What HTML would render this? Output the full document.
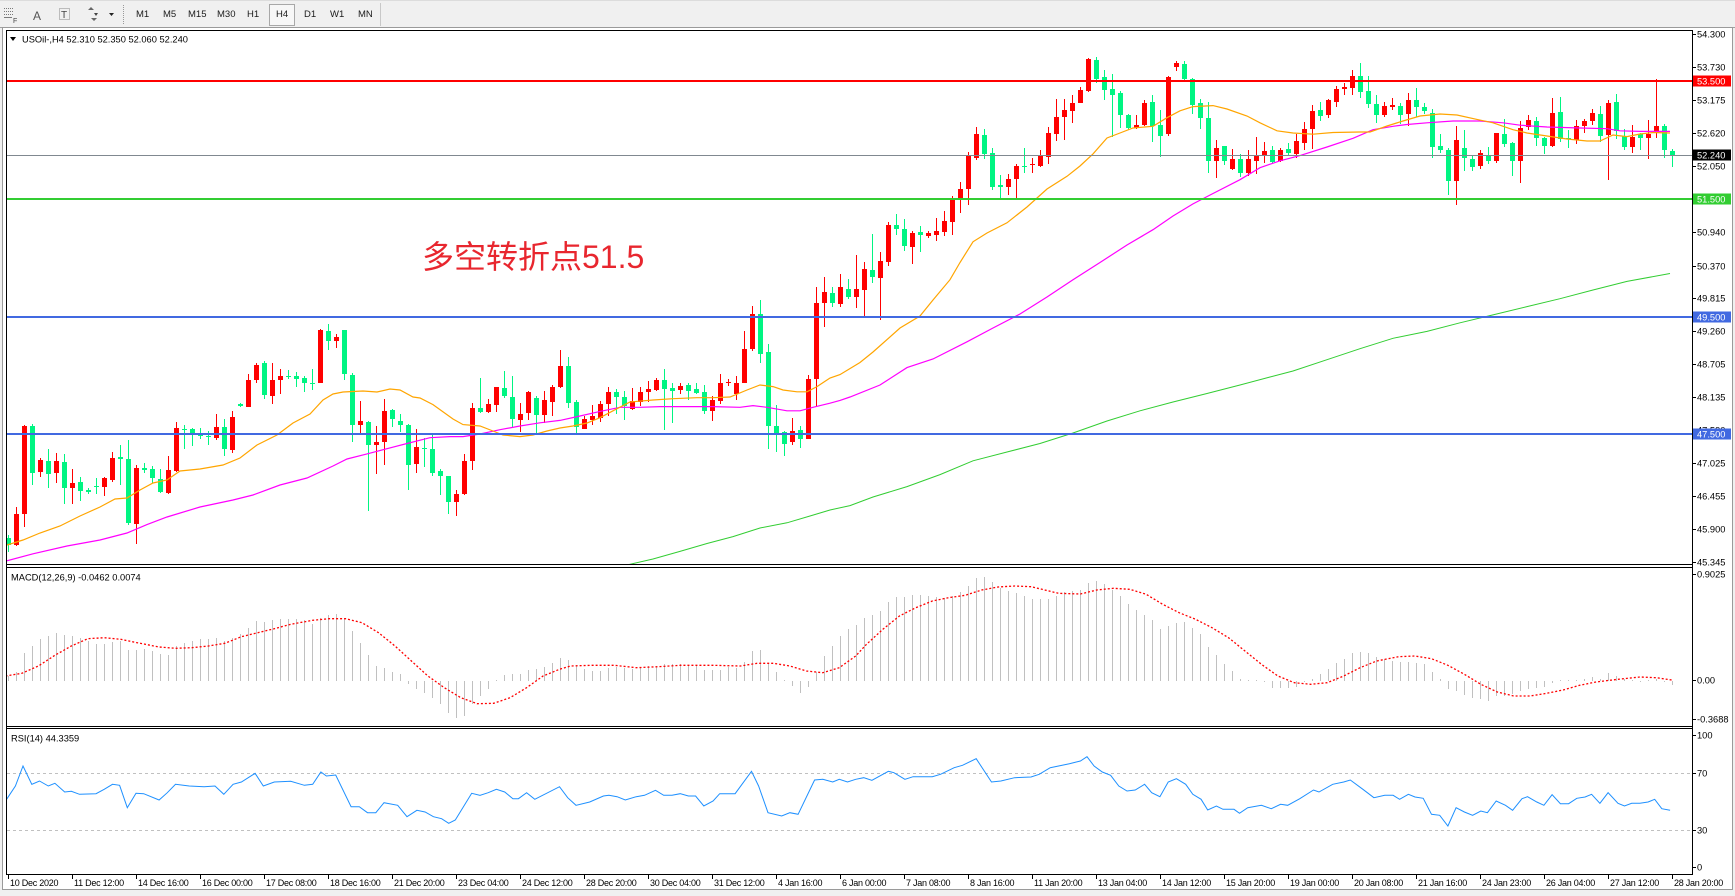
<!DOCTYPE html>
<html><head><meta charset="utf-8">
<style>
html,body{margin:0;padding:0;}
body{width:1735px;height:896px;background:#f0f0f0;position:relative;overflow:hidden;font-family:"Liberation Sans","Noto Sans CJK SC",sans-serif;}
#tb{position:absolute;left:0;top:0;width:1735px;height:26px;background:#f0f0f0;border-top:1px solid #dcdcdc;border-bottom:1px solid #a0a0a0;}
.tf{position:absolute;top:9px;font-size:9.5px;color:#1a1a1a;line-height:10px;}
#h4b{position:absolute;left:269px;top:3px;width:24px;height:20px;border:1px solid #a8a8a8;background:#f7f7f7;}
svg{position:absolute;left:0;top:0;}
.ax{font-family:"Liberation Sans",sans-serif;font-size:9.3px;fill:#000;}
.tl{font-family:"Liberation Sans",sans-serif;font-size:9px;letter-spacing:-0.25px;fill:#000;}
.bx{font-family:"Liberation Sans",sans-serif;font-size:9.3px;fill:#fff;}
</style></head>
<body>
<div id="tb">
  <svg width="400" height="26" style="position:absolute;left:0;top:0">
    <g fill="#7a7a7a">
      <rect x="4" y="7" width="1" height="1"/><rect x="6" y="7" width="1" height="1"/><rect x="8" y="7" width="1" height="1"/><rect x="10" y="7" width="1" height="1"/><rect x="12" y="7" width="1" height="1"/>
      <rect x="4" y="10" width="1" height="1"/><rect x="6" y="10" width="1" height="1"/><rect x="8" y="10" width="1" height="1"/><rect x="10" y="10" width="1" height="1"/><rect x="12" y="10" width="1" height="1"/>
      <rect x="4" y="13" width="1" height="1"/><rect x="6" y="13" width="1" height="1"/><rect x="8" y="13" width="1" height="1"/><rect x="10" y="13" width="1" height="1"/><rect x="12" y="13" width="1" height="1"/>
      <rect x="4" y="16" width="8" height="1"/>
    </g>
    <text x="13" y="22" font-size="7" font-family="Liberation Sans" fill="#444">F</text>
    <text x="33" y="19" font-size="12" font-family="Liberation Sans" fill="#555">A</text>
    <rect x="59.5" y="7.5" width="10" height="11" fill="none" stroke="#888" stroke-dasharray="1,1"/>
    <text x="61" y="17" font-size="10" font-family="Liberation Sans" fill="#444">T</text>
    <path d="M88 9 l3 -3 l3 3 z M91 17 l3 3 l3 -3 z" fill="#666"/>
    <path d="M94 12 l4 0 l-2 3 z" fill="#444"/>
    <path d="M109 12 h5 l-2.5 3 z" fill="#222"/>
    <line x1="123.5" y1="4" x2="123.5" y2="23" stroke="#999" stroke-dasharray="1,1"/>
    <line x1="380.5" y1="2" x2="380.5" y2="25" stroke="#c8c8c8"/>
  </svg>
  <div id="h4b"></div>
  <span class="tf" style="left:136px">M1</span>
  <span class="tf" style="left:163px">M5</span>
  <span class="tf" style="left:188px">M15</span>
  <span class="tf" style="left:217px">M30</span>
  <span class="tf" style="left:247px">H1</span>
  <span class="tf" style="left:276px">H4</span>
  <span class="tf" style="left:304px">D1</span>
  <span class="tf" style="left:330px">W1</span>
  <span class="tf" style="left:358px">MN</span>
</div>

<svg id="ch" width="1735" height="896" viewBox="0 0 1735 896" style="top:0;left:0">
  <defs>
    <clipPath id="cm"><rect x="7" y="31" width="1685" height="533"/></clipPath>
    <clipPath id="cd"><rect x="7" y="568" width="1685" height="158"/></clipPath>
    <clipPath id="cr"><rect x="7" y="729" width="1685" height="145"/></clipPath>
  </defs>
  <rect x="3" y="28" width="1729" height="861" fill="#ffffff"/>
  <rect x="2.5" y="27.5" width="1730" height="862" fill="none" stroke="#9a9a9a"/>

  <!-- main panel content -->
  <g clip-path="url(#cm)">
    <g id="candles"></g>
    <g id="mas"></g>
    <rect x="7" y="80" width="1685" height="2" fill="#ff0000"/>
    <rect x="7" y="155" width="1685" height="1" fill="#808890"/>
    <rect x="7" y="198" width="1685" height="2" fill="#32cd32"/>
    <rect x="7" y="316" width="1685" height="2" fill="#4169e1"/>
    <rect x="7" y="433" width="1685" height="2" fill="#4169e1"/>
  </g>
  <text x="422" y="268" font-size="32" font-family="Liberation Sans, Noto Sans CJK SC, sans-serif" fill="#e8262e">多空转折点51.5</text>

  <!-- header -->
  <path d="M10 37 h6 l-3 4 z" fill="#000"/>
  <text class="ax" x="22" y="42.5">USOil-,H4  52.310 52.350 52.060 52.240</text>

  <!-- MACD -->
  <g clip-path="url(#cd)">
    <g id="hist"></g>
    <polyline id="sig" fill="none" stroke="#ff0000" stroke-width="1.3" stroke-dasharray="2,2"/>
  </g>
  <text class="ax" x="11" y="580.5">MACD(12,26,9) -0.0462 0.0074</text>

  <!-- RSI -->
  <line x1="7" y1="773.5" x2="1692" y2="773.5" stroke="#c0c0c0" stroke-dasharray="3,3"/>
  <line x1="7" y1="830.5" x2="1692" y2="830.5" stroke="#c0c0c0" stroke-dasharray="3,3"/>
  <g clip-path="url(#cr)">
    <polyline id="rsi" fill="none" stroke="#1e90ff" stroke-width="1"/>
  </g>
  <text class="ax" x="11" y="741.5">RSI(14) 44.3359</text>

  <!-- panel borders -->
  <g stroke="#000" stroke-width="1" fill="none">
    <line x1="6" y1="30.5" x2="1693" y2="30.5"/>
    <line x1="6.5" y1="30" x2="6.5" y2="875"/>
    <line x1="6" y1="564.5" x2="1693" y2="564.5"/>
    <line x1="6" y1="567.5" x2="1693" y2="567.5"/>
    <line x1="6" y1="726.5" x2="1693" y2="726.5"/>
    <line x1="6" y1="728.5" x2="1693" y2="728.5"/>
    <line x1="6" y1="874.5" x2="1693" y2="874.5"/>
    <line x1="1692.5" y1="30" x2="1692.5" y2="875"/>
  </g>
  <g id="ticks"></g>

  <!-- right axis main -->
  <g class="ax">
    <text x="1697" y="37.3">54.300</text>
    <text x="1697" y="70.3">53.730</text>
    <text x="1697" y="103.3">53.175</text>
    <text x="1697" y="136.3">52.620</text>
    <text x="1697" y="169.3">52.050</text>
    <text x="1697" y="235.3">50.940</text>
    <text x="1697" y="269.3">50.370</text>
    <text x="1697" y="301.3">49.815</text>
    <text x="1697" y="334.3">49.260</text>
    <text x="1697" y="367.3">48.705</text>
    <text x="1697" y="400.3">48.135</text>
    <text x="1697" y="433.3">47.590</text>
    <text x="1697" y="466.3">47.025</text>
    <text x="1697" y="499.3">46.455</text>
    <text x="1697" y="532.3">45.900</text>
    <text x="1697" y="565.3">45.345</text>
  </g>
  <rect x="1693" y="75.5" width="38" height="11" fill="#ff0000"/>
  <text class="bx" x="1697" y="84.5">53.500</text>
  <rect x="1693" y="149.5" width="38" height="11" fill="#000000"/>
  <text class="bx" x="1697" y="158.5">52.240</text>
  <rect x="1693" y="193.5" width="38" height="11" fill="#32cd32"/>
  <text class="bx" x="1697" y="202.5">51.500</text>
  <rect x="1693" y="311.5" width="38" height="11" fill="#4169e1"/>
  <text class="bx" x="1697" y="320.5">49.500</text>
  <rect x="1693" y="428.5" width="38" height="11" fill="#4169e1"/>
  <text class="bx" x="1697" y="437.5">47.500</text>

  <!-- MACD axis -->
  <g class="ax">
    <text x="1697" y="577.3">0.9025</text>
    <text x="1697" y="683.3">0.00</text>
    <text x="1697" y="722.3">-0.3688</text>
    <text x="1697" y="738.3">100</text>
    <text x="1697" y="776.3">70</text>
    <text x="1697" y="833.3">30</text>
    <text x="1697" y="870.3">0</text>
  </g>

  <!-- time axis -->
  <g class="tl">
    <text x="10" y="886">10 Dec 2020</text>
    <text x="74" y="886">11 Dec 12:00</text>
    <text x="138" y="886">14 Dec 16:00</text>
    <text x="202" y="886">16 Dec 00:00</text>
    <text x="266" y="886">17 Dec 08:00</text>
    <text x="330" y="886">18 Dec 16:00</text>
    <text x="394" y="886">21 Dec 20:00</text>
    <text x="458" y="886">23 Dec 04:00</text>
    <text x="522" y="886">24 Dec 12:00</text>
    <text x="586" y="886">28 Dec 20:00</text>
    <text x="650" y="886">30 Dec 04:00</text>
    <text x="714" y="886">31 Dec 12:00</text>
    <text x="778" y="886">4 Jan 16:00</text>
    <text x="842" y="886">6 Jan 00:00</text>
    <text x="906" y="886">7 Jan 08:00</text>
    <text x="970" y="886">8 Jan 16:00</text>
    <text x="1034" y="886">11 Jan 20:00</text>
    <text x="1098" y="886">13 Jan 04:00</text>
    <text x="1162" y="886">14 Jan 12:00</text>
    <text x="1226" y="886">15 Jan 20:00</text>
    <text x="1290" y="886">19 Jan 00:00</text>
    <text x="1354" y="886">20 Jan 08:00</text>
    <text x="1418" y="886">21 Jan 16:00</text>
    <text x="1482" y="886">24 Jan 23:00</text>
    <text x="1546" y="886">26 Jan 04:00</text>
    <text x="1610" y="886">27 Jan 12:00</text>
    <text x="1674" y="886">28 Jan 20:00</text>
  </g>
</svg>

<script>
(function(){
var NS='http://www.w3.org/2000/svg';
function el(p,t,a){var e=document.createElementNS(NS,t);for(var k in a)e.setAttribute(k,a[k]);p.appendChild(e);return e;}
var C=[
['g',537.7,545,535,552],['r',514,545,507,546],['r',426,514,424.5,527],['g',426,473,423.5,485],['r',459.7,471.8,458,477],
['g',461.4,473.9,448.7,488],['r',460.8,472.8,452.8,482.5],['g',461.8,488.3,453.9,503.9],['r',482.5,488.3,468.7,503.9],['g',481.8,491,477,501],
['g',490,491.5,487.6,493.5],['g',485.5,486.5,478,493.5],['r',478,486.6,477,496],['r',457.7,479.7,452,481.8],['g',457.3,459,444.5,485],
['g',459,522.8,440.4,524.6],['r',467.6,523.5,464.5,543.5],['g',468,470,463,472.8],['g',468.7,478,466,482.5],['g',479,491.8,469,492.8],
['r',470.4,492.5,455.6,494.2],['r',428,471,422,472],['g',428.7,430,424.5,449.4],['g',429.4,434,428,446],['g',434,435.6,428,439],
['g',436,437,431.4,444.5],['r',427,438.3,413.5,440],['g',427,448.7,419.4,455.6],['r',417,449.7,411.4,452.8],['g',403.9,406,402.5,406.6],
['r',379.7,407.3,373.5,407.3],['r',364.9,379.7,362.5,383],['g',363,395.2,360.8,398.7],['r',379.7,396.3,363,403.9],['r',376.3,380.4,369.4,393.5],
['g',375.6,376.3,370,379],['g',376.3,379,372,386.6],['g',378,383,375.6,391.8],['g',382.5,383,368.7,390],['r',330,382.5,329,383],
['g',330.8,341,323.5,350.4],['r',336.6,341,333.5,348],['g',330.4,373.9,329.7,379.7],['g',374.6,424.5,372.8,441.8],['r',421,424.5,401,433],
['g',422,445,421,510.8],['r',441.8,445,425.6,473.9],['r',411.4,441.8,399.4,464.9],['g',410,418.7,409,427],['g',421,425.2,413.5,432],
['g',424.5,465,423.9,490],['r',447,464.2,429,472.8],['g',447.7,449.4,438.3,466.6],['g',449.4,472.8,433,476],['g',471,475.6,468.7,495],
['g',475.6,502,475.6,514],['r',493.5,502,490,516],['r',460.8,494.2,453.9,495],['r',408,460.8,403.2,470],['g',408.3,411.8,378.3,412.5],
['r',403.9,411.8,398.7,412.5],['r',387.3,404.9,386.6,411.8],['g',388.3,396.3,371,397.7],['g',397,419.4,376.3,428],['r',414.2,420,403.2,432],
['r',391.8,413.2,390.8,420],['g',398,414.9,396.3,434.2],['r',400.4,414.9,390.8,422.8],['r',386.6,402,384.9,416],['r',365.9,387.3,350.4,388.3],
['g',365.9,403.2,357.3,408],['g',402,427.3,400.4,434.9],['r',419.4,428.7,416,429],['r',416,420.4,404.6,424.5],['r',403.9,417.7,401,421.8],
['r',392,403.9,387.3,416],['g',391.8,397,389.4,413.5],['g',397,405.6,391,420.4],['r',401.4,409,388.3,410],['r',391.8,402,386.6,405.6],
['r',389.4,392,381.4,402],['r',379.7,390,378,390.8],['g',380.4,389.4,368.7,429.7],['g',388.3,390.8,383,422.8],['r',386,390,383,394.2],
['g',384.9,390.8,382.5,400.4],['g',389.4,392.5,382.5,393.5],['g',391.8,411.4,384.9,413.5],['r',399.7,410.8,396.3,421],['r',382.5,401,373.5,403.9],
['r',382,383,379,386],['r',382.5,394.2,376.3,399.7],['r',349.4,382.5,330.8,383],['r',314.2,349.4,306,351.4],['g',313.5,353.9,299.7,363.2],
['g',352,426.3,343.5,448.7],['g',425.6,434.2,404.6,452],['g',432,443.5,431.4,456.3],['r',431.4,441.8,418.3,445],['g',429.7,439,426.3,448],
['r',378.7,439,374.6,439],['r',302.8,378.7,287.3,407.3],['r',291.8,302.8,277,327.3],['g',292.8,302.8,287.3,306.6],['r',287.3,303.9,274.2,307.3],
['g',289,297,278.7,299],['r',289,297,254.6,308],['r',269.4,290,261.5,316],['g',270.4,277,234,283],['r',260.8,278,252,320],
['r',225,261.8,222,266],['g',224.6,229,214,235],['g',228.7,246,219.4,251.4],['r',233,247,231.4,264],['g',232,235,226,252],
['r',233,236,231.4,238],['r',231.4,235,218.3,241],['r',221,232,210.8,236],['r',199.4,222,196,235],['r',189,199.4,182,213],
['r',156,189,152,205],['r',134,158,127,160],['g',135,154,129,159],['g',153,186.6,148,190],['g',185,186.6,174.6,198.7],
['r',178.7,187,173.5,195],['r',166,178.7,163.5,200.4],['g',166,166.6,147.7,172.8],['r',164,165,158,172.8],['r',156.3,166,150.4,167],
['r',133,157,127,164],['r',117,133.9,98.7,140.8],['r',110,117,98.7,140],['r',103,110.8,94.6,122.8],['r',90,102.8,86.6,103.2],
['r',59,90.8,58,91.8],['g',59.7,78.7,57.3,82.5],['g',77.3,90,70,99.7],['g',89.4,95.2,73.9,136.6],['g',92.8,115,91,128],
['g',115,128,113.5,130.4],['r',125.2,128,115,128.7],['r',103,125.2,99.7,126.3],['g',102,126.3,95.2,141.8],['g',125.2,136,110,157.3],
['r',77,133.9,75.6,135.6],['r',63.2,66.6,60.8,71],['g',64.2,79,60.8,80.4],['g',79,104.6,78,114.2],['g',103.2,117.7,99.4,129],
['g',118.3,160.8,102,172.8],['r',147.7,161.4,140,178],['g',146.3,160.8,146.3,165],['r',159,169.4,149.4,170],['g',159,172.8,153.9,177],
['r',159,172.8,150.4,176.3],['r',155.6,160.8,136.6,173.5],['r',151,155,141.8,163],['g',150.4,161.8,146.3,163],['r',150.4,160.8,148,161.8],
['g',148.7,153,142.5,155.6],['r',141,153.9,134,158.3],['r',129,142.8,121.8,150.4],['r',110.8,129,104.6,148.7],['g',110,116,102,121],
['r',99.7,114.9,98.7,117.7],['r',89,102,86,106.6],['r',86.6,89.4,83,95.2],['r',76.3,87.7,70,95.2],['g',76.3,91.8,63.2,97.7],
['g',91,103.9,76.3,108],['g',103.9,114.9,95.2,122.8],['r',106,114.9,102,116.6],['r',105.2,106.6,98,110],['g',106,114.9,102.5,123.9],
['r',100.4,114.2,92.5,125.6],['g',100.4,107.3,88.3,116.6],['g',107.3,110.8,103,113.5],['g',112.5,147,109,158.3],['g',146.3,149.7,134,152.8],
['g',150.4,181.4,148,195.2],['r',140,181.4,125.6,205],['g',147.7,158.3,130.4,171],['g',159,167,155.6,171],['r',153,166,150.4,168.7],
['g',154.6,161.4,147,164.2],['r',133,161.4,132.5,162.5],['g',134.2,144.2,119.4,147],['g',142.5,160.8,141.8,176.3],['r',128,160.8,121,183],
['r',120.4,127,115,129.7],['g',121,137.7,117,146.3],['g',137.7,146,136.6,153.9],['r',112.5,146.3,98,147],['g',111.8,139,97,141.8],
['g',137.7,139,130.4,148],['r',125.6,140,120,143.5],['r',121,126.3,119.4,132.5],['r',113.2,121,109,124.5],['g',114.2,136,106,141.8],
['r',103.2,134.9,100.4,179.7],['g',102,131.4,94.2,139],['g',136,147,129,150.4],['r',136.6,147,124.5,152.8],['g',134.2,138.3,132.5,149.7],
['r',134.2,138.3,120,159],['r',126.3,133.2,79,137.7],['g',126.3,150.4,123.5,158.3],['g',151,155.6,148.7,167]
];
var gC=document.getElementById('candles');
for(var i=0;i<C.length;i++){var c=C[i];var cx=8+8*i;var col=c[0]=='r'?'#ff0000':'#00f582';
 var wt=Math.round(c[3]),wb=Math.round(c[4]);el(gC,'rect',{x:cx,y:wt,width:1,height:Math.max(1,wb-wt),fill:col});
 var bt=Math.round(c[1]),bb=Math.round(c[2]);el(gC,'rect',{x:cx-2,y:bt,width:5,height:Math.max(1,bb-bt),fill:col});}

function pl(p,pts,col,w){el(p,'polyline',{points:pts.map(function(q){return q[0]+','+q[1];}).join(' '),fill:'none',stroke:col,'stroke-width':w});}
var gM=document.getElementById('mas');
var OR=[[7,545],[23,540],[40,533],[60,526],[80,516],[100,507],[115,499],[127,498],[140,490],[153,483],[167,480],[180,471],[200,469],[223,465],[240,458],[257,445],[277,435],[293,423],[310,414],[323,400],[333,394],[343,392],[363,391],[377,392],[390,389],[400,390],[413,397],[420,398],[433,404.6],[453,419],[463,424.6],[480,426],[493,431],[503,435],[520,436.6],[533,435],[547,431],[560,428],[573,426],[587,423],[600,417.7],[613,410.8],[630,402],[653,400],[673,398.7],[697,397.7],[713,397.7],[730,397],[747,390],[760,385],[773,386.6],[783,390],[797,391.8],[807,391.8],[817,386.6],[830,378],[840,374.6],[860,362.5],[873,352],[900,328],[920,316],[933,300],[950,279.7],[960,262.5],[973,241.8],[987,233],[1007,222.8],[1027,207],[1047,189],[1067,176.3],[1080,166],[1093,153.9],[1107,138],[1120,133],[1133,128],[1153,126.3],[1167,117.7],[1180,110.8],[1193,106.6],[1213,105.6],[1227,109],[1247,116],[1260,122.8],[1277,130.8],[1293,133],[1313,134.2],[1333,132.5],[1360,132],[1370,132],[1387,126],[1403,121],[1420,116],[1440,114],[1457,115],[1477,119.4],[1493,122.8],[1513,129.7],[1527,133],[1547,136],[1567,139],[1587,141],[1600,141],[1613,135],[1627,136.6],[1640,134],[1653,132.5],[1670,133]];
var MG=[[7,560.8],[33,553.8],[67,546],[100,540],[127,533],[147,524.6],[167,517],[200,507],[233,500],[253,495],[280,485],[307,478],[333,466],[347,459],[367,453.9],[387,448.7],[407,443.5],[430,437.7],[450,436.6],[463,436.6],[480,434],[500,429.7],[520,426],[540,422.8],[560,420.4],[580,416],[600,411.4],[620,407.3],[640,407.3],[660,406.6],[687,406.6],[713,406.6],[740,407.3],[753,405.6],[767,407.3],[787,410.8],[800,410.8],[813,407.3],[830,403.2],[840,400.4],[850,397],[880,385],[907,367.6],[933,359],[967,341.8],[993,328],[1020,314],[1047,297],[1073,279.7],[1100,262.5],[1127,245],[1153,229.7],[1173,216],[1193,203.9],[1213,193.5],[1240,179.7],[1260,167.7],[1280,160.8],[1300,155.6],[1327,147],[1353,138.3],[1373,129.7],[1393,126.3],[1407,124.5],[1427,122.8],[1453,121],[1480,121],[1503,122.8],[1520,125.2],[1547,127],[1580,128],[1607,128.7],[1620,130.8],[1640,131.4],[1670,131.4]];
var GR=[[627,565],[653,559],[680,551.4],[707,543.5],[733,536.6],[760,528],[787,522.8],[810,516],[830,510],[850,505.6],[873,497],[907,486.6],[940,474.6],[973,460.8],[1007,452],[1040,443.5],[1073,433],[1107,421],[1140,410.8],[1173,402],[1207,393.5],[1240,385],[1270,377],[1293,371],[1327,359.7],[1360,348.7],[1393,338.3],[1427,331.4],[1460,322.8],[1493,314.9],[1527,306.6],[1560,298.7],[1593,290],[1627,281.4],[1670,273.5]];
pl(gM,GR,'#32cd32',1);pl(gM,MG,'#ff00ff',1.2);pl(gM,OR,'#ffa500',1.2);

var H=[330,318,260,240,220,210,200,207,210,215,225,233,235,228,225,253,252,248,255,265,267,240,230,225,218,218,215,225,215,205,185,165,168,162,158,158,160,162,175,155,147,143,155,195,230,268,300,305,318,325,355,368,380,395,415,440,455,450,415,390,368,343,327,325,325,312,310,303,292,275,282,300,308,315,315,305,303,305,308,305,300,300,295,293,295,298,300,312,313,312,303,305,288,255,252,290,318,343,360,380,362,318,270,240,210,190,
178,155,148,135,108,93,93,87,87,90,92,95,90,78,60,36,33,47,65,75,80,90,98,100,100,90,78,75,72,50,45,55,72,90,113,133,148,163,188,180,170,168,185,205,243,268,293,315,338,342,342,345,365,365,365,363,345,340,325,308,292,278,260,258,260,272,278,285,288,288,290,295,318,338,370,375,388,395,398,405,390,390,385,375,368,365,362,350,342,342,342,340,333,338,320,330,340,342,345,343,340,345,358];
var gH=document.getElementById('hist');
for(var j=0;j<H.length;j++){var y=566+H[j]/3;var y0=681;var t=Math.round(Math.min(y,y0)),b=Math.round(Math.max(y,y0));el(gH,'rect',{x:8+8*j,y:t,width:1,height:Math.max(1,b-t),fill:'#c0c0c0'});}

var S11=[[10,330],[40,322],[70,300],[100,268],[130,240],[160,218],[190,215],[220,220],[250,230],[290,243],[320,247],[350,245],[380,240],[410,232],[440,212],[470,200],[500,188],[530,175],[570,163],[600,158],[630,158],[660,170],[690,200],[720,240],[750,285],[780,330],[810,365],[840,395],[870,413],[900,412],[930,395],[960,365],[990,330],[1020,310],[1040,300],[1080,298],[1120,298],[1160,305],[1200,302],[1240,298],[1300,298],[1350,300],[1380,292],[1410,292],[1440,300],[1470,315],[1500,320],[1530,305],[1560,270]];
var S12=[[5,280],[30,235],[60,190],[90,150],[120,125],[150,105],[180,95],[210,88],[240,72],[270,63],[300,60],[330,62],[350,70],[380,82],[420,84],[450,72],[480,67],[510,70],[540,85],[570,115],[600,140],[630,160],[660,185],[690,215],[720,255],[750,295],[780,330],[810,350],[840,355],[870,350],[900,330],[930,305],[960,285],[1000,272],[1030,270],[1060,278],[1090,298],[1120,325],[1150,355],[1180,378],[1210,390],[1240,390],[1270,382],[1300,372],[1330,358],[1360,348],[1400,340],[1440,333],[1470,335],[1498,342]];
var sp=[];S11.forEach(function(q){sp.push([(q[0]/1.823).toFixed(1),(566+q[1]/3).toFixed(1)]);});
S12.forEach(function(q){var x=850+q[0]/1.823;if(x>sp[sp.length-1][0]*1+1)sp.push([x.toFixed(1),(566+q[1]/3).toFixed(1)]);});
document.getElementById('sig').setAttribute('points',sp.map(function(q){return q[0]+','+q[1];}).join(' '));

var R11=[[12,700],[28,660],[42,600],[58,655],[72,645],[88,660],[100,652],[118,678],[130,676],[145,685],[175,683],[190,670],[205,655],[218,658],[232,725],[248,682],[262,683],[290,702],[305,680],[320,655],[345,660],[372,662],[392,660],[408,685],[425,655],[440,648],[465,622],[480,660],[500,648],[530,646],[555,658],[570,655],[585,618],[595,630],[612,627],[640,722],[655,722],[670,740],[685,740],[700,710],[725,718],[742,752],[760,733],[775,738],[790,752],[805,758],[818,772],[830,762],[860,682],[875,688],[890,680],[905,670],[920,678],[935,698],[945,698],[960,680],[975,700],[1020,662],[1035,695],[1050,718],[1075,708],[1100,690],[1110,688],[1125,692],[1140,702],[1160,692],[1175,688],[1195,673],[1210,688],[1225,688],[1240,683],[1255,690],[1268,690],[1283,720],[1300,705],[1312,683],[1340,683],[1370,616],[1383,660],[1400,740],[1425,750],[1440,740],[1455,745],[1485,642],[1500,640],[1518,648],[1530,640],[1545,648],[1560,640]];
var R12=[[0,648],[25,635],[40,643],[70,616],[80,620],[100,640],[115,632],[150,632],[165,625],[190,605],[205,598],[230,578],[258,648],[275,645],[300,635],[330,633],[345,625],[365,605],[400,593],[420,585],[432,572],[445,600],[460,618],[475,628],[490,660],[505,675],[520,672],[537,655],[550,680],[565,692],[580,648],[595,638],[612,655],[625,685],[640,700],[652,732],[668,720],[680,730],[700,730],[710,742],[725,725],[750,718],[768,728],[785,715],[798,718],[820,698],[845,672],[855,678],[880,655],[900,648],[912,642],[935,670],[955,695],[975,688],[990,688],[1002,700],[1018,685],[1030,693],[1045,697],[1060,745],[1075,748],[1090,780],[1105,725],[1120,738],[1135,748],[1150,735],[1162,740],[1178,705],[1195,718],[1208,733],[1225,698],[1235,692],[1252,708],[1265,718],[1280,686],[1295,713],[1310,713],[1325,697],[1340,693],[1352,685],[1367,712],[1382,680],[1400,712],[1412,720],[1425,712],[1440,712],[1455,708],[1467,700],[1480,728],[1495,733]];
var rp=[];R11.forEach(function(q){rp.push([(q[0]/1.823).toFixed(1),(566+q[1]/3).toFixed(1)]);});
R12.forEach(function(q){var x=850+q[0]/1.823;if(x>rp[rp.length-1][0]*1+1)rp.push([x.toFixed(1),(566+q[1]/3).toFixed(1)]);});
document.getElementById('rsi').setAttribute('points',rp.map(function(q){return q[0]+','+q[1];}).join(' '));

var gT=document.getElementById('ticks');
for(var k=0;k<27;k++){el(gT,'rect',{x:8+64*k,y:875,width:1,height:4,fill:'#000'});}
var ys=[34,67,100,133,166,199,232,266,298,331,364,397,430,463,496,529,562,574,680,719,735,773,830,867,81,155,317,434];
ys.forEach(function(y){el(gT,'rect',{x:1693,y:y,width:3,height:1,fill:'#000'});});
})();
</script>
</body></html>
